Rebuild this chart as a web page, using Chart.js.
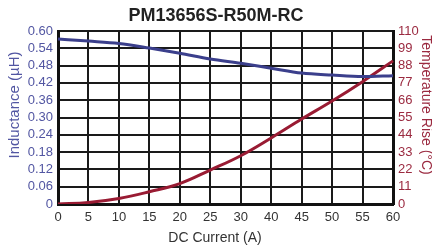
<!DOCTYPE html>
<html>
<head>
<meta charset="utf-8">
<script src="https://cdn.jsdelivr.net/npm/chart.js@4/dist/chart.umd.min.js"></script>
<style>
    html, body { margin: 0; padding: 0; background: #fff; }
    #box { width: 432px; height: 249px; }
</style>
</head>
<body>
<div id="box"><canvas id="grafico"></canvas></div>
<script>
let chart; // global chart

// DC current tick labels (the original chart skips 35)
const correntes = ['0', '5', '10', '15', '20', '25', '30', '40', '45', '50', '55', '60'];
// Inductance (uH) at each grid line
const indutancia = [0.572, 0.565, 0.557, 0.541, 0.523, 0.503, 0.488, 0.471, 0.454, 0.447, 0.442, 0.445];
// Temperature rise (C) at each grid line
const temperatura = [0, 1, 3.5, 7.8, 13, 21.6, 30.7, 42, 54, 65.5, 77.8, 91];
// axis tick labels
const ticksIndutancia = ['0', '0.06', '0.12', '0.18', '0.24', '0.30', '0.36', '0.42', '0.48', '0.54', '0.60'];
const ticksTemperatura = ['0', '11', '22', '33', '44', '55', '66', '77', '88', '99', '110'];

const AZUL = '#3b3f8c';
const AZUL_TXT = '#5256a2';
const VERMELHO = '#991b33';
const VERMELHO_TXT = '#9b2a40';
const FONTE = "'Liberation Sans', Arial, sans-serif";

// axis titles, placed like in the original (a little off the plot centre)
const titulosEixos = {
    id: 'titulosEixos',
    afterDraw(c) {
        const ctx = c.ctx;
        ctx.save();
        ctx.textAlign = 'center';
        ctx.textBaseline = 'middle';

        ctx.font = '14px ' + FONTE;
        ctx.fillStyle = '#333';
        ctx.fillText('DC Current (A)', 215, 238);

        ctx.save();
        ctx.translate(15, 105);
        ctx.rotate(-Math.PI / 2);
        ctx.font = '15px ' + FONTE;
        ctx.fillStyle = AZUL_TXT;
        ctx.fillText('Inductance (µH)', 0, 0);
        ctx.restore();

        ctx.translate(426, 105);
        ctx.rotate(Math.PI / 2);
        ctx.font = '14px ' + FONTE;
        ctx.fillStyle = VERMELHO_TXT;
        ctx.fillText('Temperature Rise (°C)', 0, 0);
        ctx.restore();
    }
};

function inicializarGrafico() {
    const ctx = document.getElementById('grafico').getContext('2d');

    chart = new Chart(ctx, {
        type: 'line',
        data: {
            labels: correntes,
            datasets: [{
                label: 'Inductance',
                data: indutancia,
                yAxisID: 'yL',
                borderColor: AZUL,
                borderWidth: 3,
                pointRadius: 0,
                cubicInterpolationMode: 'monotone'
            }, {
                label: 'Temperature Rise',
                data: temperatura,
                yAxisID: 'yR',
                borderColor: VERMELHO,
                borderWidth: 3,
                pointRadius: 0,
                tension: 0.4
            }]
        },
        options: {
            responsive: true,
            maintainAspectRatio: false,
            animation: false,
            layout: { padding: 0 },
            plugins: {
                legend: { display: false },
                tooltip: { enabled: false },
                title: {
                    display: true,
                    text: 'PM13656S-R50M-RC',
                    color: '#222',
                    font: { family: FONTE, size: 18, weight: 'bold' },
                    padding: { top: 5, bottom: 4.4 }
                }
            },
            scales: {
                x: {
                    type: 'category',
                    offset: false,
                    grid: { color: '#1a1a1a', lineWidth: 2, drawTicks: false },
                    border: { color: '#111', width: 3 },
                    ticks: { color: '#333', padding: 6, maxRotation: 0, autoSkip: false, font: { family: FONTE, size: 13 } },
                    afterFit: s => { s.height = 45; }
                },
                yL: {
                    position: 'left',
                    min: 0,
                    max: 0.6,
                    ticks: {
                        count: 11,
                        autoSkip: false,
                        color: AZUL_TXT,
                        padding: 5,
                        font: { family: FONTE, size: 13 },
                        callback: (v, i) => ticksIndutancia[i]
                    },
                    grid: { color: '#1a1a1a', lineWidth: 2, drawTicks: false },
                    border: { color: '#111', width: 3 },
                    afterFit: s => { s.width = 58; }
                },
                yR: {
                    position: 'right',
                    min: 0,
                    max: 110,
                    ticks: {
                        count: 11,
                        autoSkip: false,
                        color: VERMELHO_TXT,
                        padding: 5,
                        font: { family: FONTE, size: 13 },
                        callback: (v, i) => ticksTemperatura[i]
                    },
                    grid: { display: false, drawTicks: false },
                    border: { color: '#111', width: 3 },
                    afterFit: s => { s.width = 39; }
                }
            }
        },
        plugins: [titulosEixos]
    });
}

document.addEventListener('DOMContentLoaded', () => {
    inicializarGrafico();
});
</script>
</body>
</html>
